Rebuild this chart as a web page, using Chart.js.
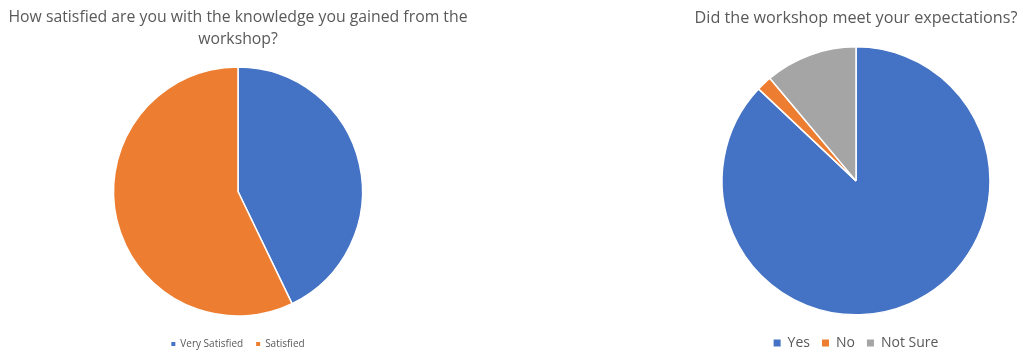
<!DOCTYPE html>
<html>
<head>
<meta charset="utf-8">
<script src="https://cdn.jsdelivr.net/npm/chart.js@4.4.1/dist/chart.umd.min.js"></script>
<style>
  html, body { margin: 0; padding: 0; background: #fff; overflow: hidden; width: 1022px; height: 350px; }
  .box { position: absolute; top: 0; }
</style>
</head>
<body>
<div class="box" style="left:0; width:476px; height:359px;"><canvas id="c1"></canvas></div>
<div class="box" style="left:690px; width:332px; height:360px;"><canvas id="c2"></canvas></div>
<script>
const leftTitle = ['How satisfied are you with the knowledge you gained from the', 'workshop?'];
const leftLabels = ['Very Satisfied', 'Satisfied'];
const leftValues = [9, 12];

const rightTitle = 'Did the workshop meet your expectations?';
const rightLabels = ['Yes', 'No', 'Not Sure'];
const rightValues = [47, 1, 6];

const BLUE = '#4472C4', ORANGE = '#ED7D31', GRAY = '#A5A5A5';
const TEXT = '#595959';
const FONT = '"Open Sans"';

Chart.defaults.font.family = FONT;
Chart.defaults.color = TEXT;

const plainBoxes = chart =>
  Chart.overrides.pie.plugins.legend.labels.generateLabels(chart).map(l => Object.assign(l, { lineWidth: 0, strokeStyle: 'rgba(0,0,0,0)' }));

new Chart(document.getElementById('c1'), {
  type: 'pie',
  data: {
    labels: leftLabels,
    datasets: [{ data: leftValues, backgroundColor: [BLUE, ORANGE], borderColor: '#fff', borderWidth: 1.5, radius: 124.5 }]
  },
  options: {
    responsive: true, maintainAspectRatio: false, animation: false,
    plugins: {
      title: { display: true, text: leftTitle, color: TEXT, font: { size: 15.8, weight: 'normal', lineHeight: 1.455 }, padding: { top: 5.5, bottom: 5.5 } },
      legend: { position: 'bottom', labels: { font: { size: 10 }, color: TEXT, boxWidth: 4, boxHeight: 4, padding: 13, generateLabels: plainBoxes } },
      tooltip: { enabled: false }
    }
  }
});

new Chart(document.getElementById('c2'), {
  type: 'pie',
  data: {
    labels: rightLabels,
    datasets: [{ data: rightValues, backgroundColor: [BLUE, ORANGE, GRAY], borderColor: '#fff', borderWidth: 1.5, radius: 134 }]
  },
  options: {
    responsive: true, maintainAspectRatio: false, animation: false,
    plugins: {
      title: { display: true, text: rightTitle, color: TEXT, font: { size: 16.2, weight: 'normal', lineHeight: 1.2 }, padding: { top: 8.3, bottom: 10 } },
      legend: { position: 'bottom', labels: { font: { size: 14 }, color: TEXT, boxWidth: 7, boxHeight: 7, padding: 12, generateLabels: plainBoxes } },
      tooltip: { enabled: false }
    }
  }
});
</script>
</body>
</html>
